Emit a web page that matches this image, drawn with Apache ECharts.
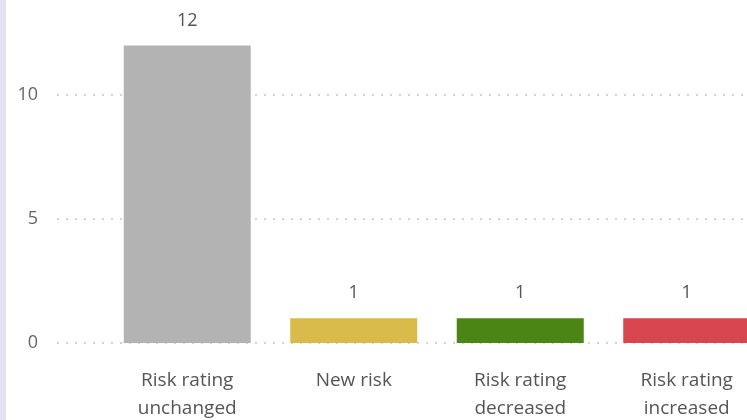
<!DOCTYPE html>
<html>
<head>
<meta charset="utf-8">
<script src="https://cdn.jsdelivr.net/npm/echarts@6/dist/echarts.min.js"></script>
<style>
html,body{margin:0;padding:0;background:#fff;}
#chart{width:747px;height:420px;}
</style>
</head>
<body>
<div id="chart"></div>
<script>
var categories = ['Risk rating\nunchanged', 'New risk', 'Risk rating\ndecreased', 'Risk rating\nincreased'];
var values = [12, 1, 1, 1];
var barColors = ['#b3b3b3', '#d9bb4c', '#4a8516', '#d7454f'];
var yTicks = [0, 5, 10, 15];

var chart = echarts.init(document.getElementById('chart'));
var font = '"Open Sans", "Noto Sans", sans-serif';
var gTop = -29, gBottom = 77;
chart.setOption({
  animation: false,
  graphic: [{type: 'rect', shape: {x: 0, y: 0, width: 6, height: 420}, style: {fill: '#e2e4f3'}, z: 10}],
  grid: [
    {left: 57, right: 0, top: gTop, bottom: gBottom, outerBoundsMode: 'none', containLabel: false},
    {left: 104, right: -23, top: gTop, bottom: gBottom, outerBoundsMode: 'none', containLabel: false}
  ],
  xAxis: [
    {type: 'value', gridIndex: 0, min: 0, max: 1, show: false},
    {type: 'category', gridIndex: 1, data: categories,
     axisLine: {show: false}, axisTick: {show: false},
     axisLabel: {color: '#555', fontFamily: font, fontSize: 19, lineHeight: 28, margin: 24, interval: 0}}
  ],
  yAxis: [
    {type: 'value', gridIndex: 0, min: yTicks[0], max: yTicks[yTicks.length - 1], interval: 5,
     axisLine: {show: false}, axisTick: {show: false},
     axisLabel: {color: '#666', fontFamily: font, fontSize: 18, margin: 19},
     splitLine: {show: true, lineStyle: {color: '#c4c4c4', type: [2, 7], width: 1.5}}},
    {type: 'value', gridIndex: 1, min: yTicks[0], max: yTicks[yTicks.length - 1], interval: 5, show: false,
     splitLine: {show: false}}
  ],
  series: [{
    type: 'bar', xAxisIndex: 1, yAxisIndex: 1,
    data: values.map(function (v, i) { return {value: v, itemStyle: {color: barColors[i]}}; }),
    barWidth: 127,
    label: {show: true, position: 'top', distance: 16, color: '#555', fontFamily: font, fontSize: 18}
  }]
});
</script>
</body>
</html>
